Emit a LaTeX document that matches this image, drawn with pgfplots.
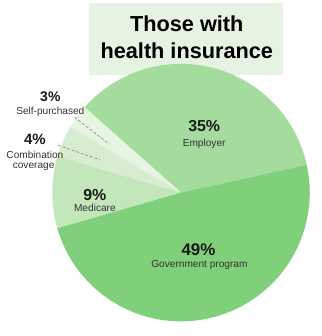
\documentclass[border=0pt]{standalone}
\usepackage{pgfplots}
\pgfplotsset{compat=1.18}
\usepackage{fontspec}
\setmainfont{Liberation Sans}
\definecolor{empcol}{HTML}{A3DC9C}
\definecolor{govcol}{HTML}{80CF7A}
\definecolor{medcol}{HTML}{C3E6BB}
\definecolor{combcol}{HTML}{D6EECF}
\definecolor{selfcol}{HTML}{E6F4E2}
\definecolor{titlebg}{HTML}{E6F3E2}
\definecolor{lbl}{HTML}{333333}
% slice: start angle, percent, colour
\newcommand\slice[3]{%
  \fill[#3] (axis cs:0,0) -- (axis cs:{cos(#1)},{sin(#1)})
    arc[start angle=#1, delta angle={3.6*#2}, radius=133bp] -- cycle;}
\begin{document}
\begin{tikzpicture}
\begin{axis}[
  x=133bp, y=133bp,
  xmin=-1.406, xmax=1.030, ymin=-1.030, ymax=1.496,
  hide axis, clip=false,
]
\path (rel axis cs:0,0) rectangle (rel axis cs:1,1);
\fill[titlebg] (axis cs:-0.714,0.917) rectangle (axis cs:0.789,1.474);
\slice{12.5}{35}{empcol}
\slice{138.5}{3}{selfcol}
\slice{149.3}{4}{combcol}
\slice{163.7}{9}{medcol}
\slice{196.1}{49}{govcol}
\node[anchor=base, font=\bfseries\fontsize{22.5}{25}\selectfont] at (axis cs:0.045,1.250) {Those with};
\node[anchor=base, font=\bfseries\fontsize{22.5}{25}\selectfont] at (axis cs:0.045,1.040) {health insurance};
% labels
\node[font=\bfseries\fontsize{16.5}{18}\selectfont, text=black!90] at (axis cs:0.180,0.519) {35\%};
\node[font=\fontsize{10.5}{12}\selectfont, text=lbl] at (axis cs:0.180,0.380) {Employer};
\node[font=\bfseries\fontsize{17.5}{19}\selectfont, text=black!90] at (axis cs:0.135,-0.444) {49\%};
\node[font=\fontsize{10.5}{12}\selectfont, text=lbl] at (axis cs:0.143,-0.560) {Government program};
\node[font=\bfseries\fontsize{16.5}{18}\selectfont, text=black!90] at (axis cs:-0.669,-0.015) {9\%};
\node[font=\fontsize{10.5}{12}\selectfont, text=lbl] at (axis cs:-0.669,-0.120) {Medicare};
\node[font=\bfseries\fontsize{15.5}{17}\selectfont, text=black!90] at (axis cs:-1.135,0.414) {4\%};
\node[font=\fontsize{10.5}{12}\selectfont, text=lbl] at (axis cs:-1.135,0.290) {Combination};
\node[font=\fontsize{10.5}{12}\selectfont, text=lbl] at (axis cs:-1.145,0.200) {coverage};
\node[font=\bfseries\fontsize{14.5}{16}\selectfont, text=black!90] at (axis cs:-1.015,0.744) {3\%};
\node[font=\fontsize{10.5}{12}\selectfont, text=lbl] at (axis cs:-1.015,0.630) {Self-purchased};
\draw[gray, densely dashed, line width=0.6pt] (axis cs:-0.827,0.586) -- (axis cs:-0.556,0.376);
\draw[gray, densely dashed, line width=0.6pt] (axis cs:-0.955,0.368) -- (axis cs:-0.632,0.256);
\end{axis}
\end{tikzpicture}
\end{document}
